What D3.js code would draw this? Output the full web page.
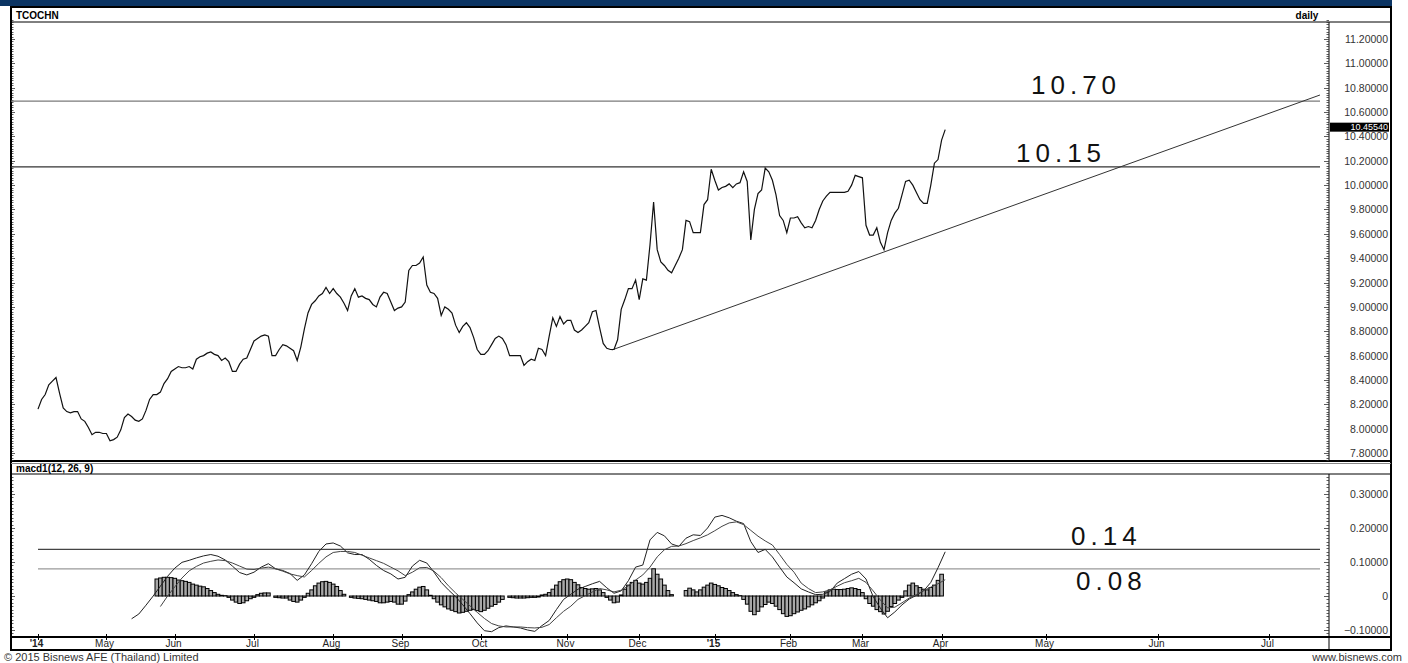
<!DOCTYPE html>
<html><head><meta charset="utf-8">
<script src="https://cdn.jsdelivr.net/npm/d3@7/dist/d3.min.js"></script>
<style>
html,body{margin:0;padding:0;background:#fff;}
svg{display:block;font-family:"Liberation Sans",Arial,sans-serif;}
</style></head>
<body>
<svg id="chart" width="1408" height="663"></svg>
<script>
// ---------------- DATA ----------------
const symbol = "TCOCHN";
const period = "daily";
const indicatorName = "macd1(12, 26, 9)";
const lastPrice = 10.4554;

// daily closes (one per trading day, index 0 = first bar)
const priceValues = [
 8.16,8.24,8.28,8.36,8.39,8.42,8.29,8.17,8.14,8.13,
 8.14,8.14,8.08,8.06,8.01,7.95,7.97,7.97,7.96,7.96,
 7.90,7.91,7.93,7.99,8.09,8.12,8.10,8.07,8.06,8.08,
 8.15,8.24,8.28,8.28,8.30,8.37,8.41,8.47,8.49,8.51,
 8.50,8.50,8.51,8.49,8.57,8.59,8.60,8.62,8.63,8.61,
 8.60,8.56,8.58,8.55,8.47,8.47,8.53,8.57,8.58,8.65,
 8.72,8.74,8.76,8.77,8.76,8.60,8.60,8.65,8.69,8.68,
 8.66,8.64,8.56,8.67,8.82,8.95,9.02,9.05,9.09,9.11,
 9.16,9.11,9.15,9.11,9.08,9.03,8.97,9.09,9.15,9.08,
 9.09,9.07,9.06,9.02,9.00,9.08,9.12,9.11,9.04,8.97,
 8.99,9.00,9.04,9.30,9.34,9.34,9.36,9.41,9.18,9.12,
 9.11,9.07,8.93,9.00,8.98,8.95,8.85,8.79,8.84,8.87,
 8.83,8.75,8.65,8.61,8.61,8.64,8.69,8.74,8.76,8.74,
 8.69,8.60,8.60,8.60,8.60,8.52,8.55,8.57,8.56,8.66,
 8.65,8.60,8.76,8.91,8.84,8.92,8.86,8.89,8.89,8.81,
 8.79,8.81,8.84,8.87,8.96,8.97,8.83,8.70,8.66,8.65,
 8.65,8.73,8.98,9.06,9.15,9.15,9.22,9.06,9.23,9.22,
 9.51,9.86,9.47,9.37,9.34,9.30,9.28,9.34,9.40,9.47,
 9.71,9.70,9.61,9.61,9.61,9.84,9.88,10.13,10.04,9.96,
 9.98,9.99,10.01,9.98,10.01,10.02,10.11,10.03,9.55,9.80,
 9.93,9.96,10.14,10.11,10.04,9.92,9.75,9.71,9.61,9.73,
 9.73,9.74,9.69,9.65,9.66,9.65,9.71,9.80,9.87,9.91,
 9.94,9.94,9.94,9.94,9.94,9.95,10.00,10.08,10.07,10.06,
 9.67,9.59,9.59,9.65,9.53,9.47,9.61,9.71,9.77,9.81,
 9.92,10.03,10.04,10.00,9.94,9.88,9.85,9.85,10.00,10.18,
 10.21,10.37,10.4554
];

// MACD histogram, one bar per trading day starting at bar histFirstBar (null = no bar)
const histFirstBar = 33;
const histValues = [
 0.050,0.053,0.055,0.055,0.054,0.052,0.047,0.045,0.043,0.040,
 0.035,0.032,0.029,0.027,0.022,0.016,0.010,0.005,0.002,0.001,
 -0.004,-0.012,-0.018,-0.022,-0.020,-0.014,-0.008,-0.004,0.004,0.008,
 0.009,0.009,null,-0.004,-0.005,-0.006,-0.006,-0.012,-0.016,-0.018,
 -0.012,-0.004,0.008,0.018,0.030,0.038,0.042,0.043,0.040,0.035,
 0.028,0.016,0.005,null,-0.004,-0.006,-0.007,-0.008,-0.010,-0.012,
 -0.014,-0.016,-0.020,-0.020,-0.018,-0.016,-0.018,-0.024,-0.024,-0.015,
 0.004,0.012,0.020,0.026,0.028,0.018,0.002,-0.008,-0.018,-0.026,
 -0.032,-0.038,-0.042,-0.046,-0.050,-0.048,-0.045,-0.042,-0.040,-0.043,
 -0.046,-0.042,-0.036,-0.030,-0.025,-0.018,-0.010,null,-0.004,-0.005,
 -0.006,-0.006,-0.006,-0.005,-0.004,-0.004,-0.003,0.003,0.005,0.010,
 0.020,0.032,0.042,0.048,0.050,0.048,0.040,0.033,0.025,0.022,
 0.020,0.021,0.022,0.018,0.010,-0.004,-0.012,-0.020,-0.018,0.003,
 0.020,0.032,0.040,0.046,0.038,0.035,0.040,0.052,0.080,0.064,
 0.050,0.032,0.016,0.004,null,0.000,0.000,0.016,0.023,0.018,
 0.012,0.018,0.026,0.032,0.038,0.034,0.030,0.025,0.022,0.016,
 0.010,0.004,0.001,-0.010,-0.024,-0.045,-0.055,-0.045,-0.032,-0.025,
 -0.018,-0.022,-0.030,-0.040,-0.052,-0.060,-0.058,-0.052,-0.047,-0.042,
 -0.038,-0.032,-0.026,-0.020,-0.014,-0.006,0.012,0.018,0.020,0.019,
 0.019,0.020,0.022,0.024,0.022,0.019,0.010,-0.008,-0.022,-0.030,
 -0.040,-0.046,-0.053,-0.045,-0.031,-0.022,-0.012,-0.004,0.015,0.032,
 0.038,0.030,0.025,0.020,0.018,0.025,0.032,0.046,0.064
];

// MACD and signal lines, read every second trading day
const lineStep = 2;
const macdFirstBar = 26;
const macdValues = [
 -0.067,-0.053,-0.027,0.000,0.029,0.058,0.082,0.099,0.105,0.112,
 0.118,0.122,0.117,0.106,0.088,0.069,0.062,0.070,0.085,0.095,
 0.080,0.075,0.066,0.046,0.062,0.095,0.131,0.153,0.156,0.147,
 0.127,0.122,0.122,0.108,0.090,0.075,0.065,0.050,0.055,0.088,
 0.105,0.097,0.070,0.040,0.018,-0.002,-0.026,-0.052,-0.079,-0.102,
 -0.105,-0.093,-0.088,-0.091,-0.094,-0.100,-0.104,-0.087,-0.072,-0.040,
 -0.010,0.005,0.020,0.028,0.036,0.043,0.024,0.008,0.015,0.045,
 0.085,0.091,0.165,0.187,0.177,0.153,0.146,0.170,0.180,0.178,
 0.200,0.232,0.237,0.230,0.220,0.213,0.160,0.128,0.137,0.115,
 0.085,0.056,0.039,0.021,0.012,0.004,0.005,0.013,0.038,0.051,
 0.064,0.072,0.050,-0.002,-0.036,-0.064,-0.047,-0.026,-0.009,0.002,
 0.015,0.040,0.083,0.130
];
const signalFirstBar = 34;
const signalValues = [
 -0.031,0.000,0.027,0.053,0.074,0.087,0.097,0.102,0.106,0.104,
 0.097,0.088,0.079,0.078,0.082,0.085,0.080,0.073,0.065,0.060,
 0.056,0.075,0.096,0.115,0.128,0.131,0.131,0.128,0.120,0.112,
 0.104,0.096,0.085,0.074,0.060,0.070,0.083,0.084,0.073,0.054,
 0.030,0.009,-0.010,-0.029,-0.048,-0.066,-0.081,-0.088,-0.091,-0.091,
 -0.091,-0.093,-0.094,-0.092,-0.084,-0.064,-0.045,-0.030,-0.010,0.001,
 0.012,0.022,0.018,0.012,0.017,0.030,0.047,0.062,0.085,0.115,
 0.136,0.146,0.147,0.154,0.163,0.171,0.180,0.192,0.205,0.215,
 0.218,0.210,0.193,0.176,0.162,0.150,0.122,0.093,0.070,0.038,
 0.022,0.010,0.012,0.018,0.029,0.039,0.045,0.052,0.040,0.015,
 -0.012,-0.035,-0.033,-0.020,-0.006,0.004,0.016,0.026,0.036,0.048
];

// x axis months (bar index of first day of month; future months projected)
const monthBars   = [0,19,38,60,82,101,123,147,167,188,209,229,251,280,311,342];
const monthLabels = ["'14","May","Jun","Jul","Aug","Sep","Oct","Nov","Dec","'15","Feb","Mar","Apr","May","Jun","Jul"];
const boldLabels  = ["'14","'15"];

// y axis ticks
const priceTicks = [7.8,8.0,8.2,8.4,8.6,8.8,9.0,9.2,9.4,9.6,9.8,10.0,10.2,10.4,10.6,10.8,11.0,11.2];
const macdTicks  = [-0.1,0,0.1,0.2,0.3];

// drawn annotations
const priceLevels = [{value:10.69,label:"10.70",color:"#7a7a7a"},{value:10.15,label:"10.15",color:"#333"}];
const macdLevels  = [{value:0.137,label:"0.14",color:"#444"},{value:0.08,label:"0.08",color:"#9a9a9a"}];
const trendLine   = [[159.4,8.646],[356.1,10.74]];

// ---------------- DRAW ----------------
const svg = d3.select("#chart");
const L = 11, R = 1391, AX = 1329;
const priceTop = 22, priceBot = 461, macdHeadTop = 463, macdTop = 474, macdBot = 637, axisBot = 650;

const x = d3.scaleLinear().domain([0, 252]).range([38, 945.2]);
const yP = d3.scaleLinear().domain([7.8, 11.2]).range([453, 39]);
const yM = d3.scaleLinear().domain([-0.1, 0.3]).range([630, 494]);

// top blue banner
svg.append("rect").attr("x",0).attr("y",0).attr("width",1392).attr("height",6).attr("fill","#0b3463");

// frames
const frame = svg.append("g").attr("fill","none").attr("stroke","#000");
frame.append("rect").attr("x",L).attr("y",7).attr("width",R-L).attr("height",axisBot-7).attr("stroke-width",2);
frame.append("line").attr("x1",L).attr("x2",R).attr("y1",priceTop).attr("y2",priceTop).attr("stroke-width",1);
frame.append("line").attr("x1",L).attr("x2",R).attr("y1",priceBot).attr("y2",priceBot).attr("stroke-width",2);
frame.append("line").attr("x1",L).attr("x2",R).attr("y1",macdHeadTop+0.5).attr("y2",macdHeadTop+0.5).attr("stroke","#888");
frame.append("line").attr("x1",L).attr("x2",R).attr("y1",macdTop).attr("y2",macdTop).attr("stroke-width",1);
frame.append("line").attr("x1",L).attr("x2",R).attr("y1",macdBot).attr("y2",macdBot).attr("stroke-width",2);
frame.append("line").attr("x1",AX).attr("x2",AX).attr("y1",priceTop).attr("y2",priceBot).attr("stroke-width",1);
frame.append("line").attr("x1",AX).attr("x2",AX).attr("y1",macdTop).attr("y2",axisBot).attr("stroke-width",1);

// header texts
svg.append("text").attr("x",16).attr("y",19).attr("font-size",10).attr("font-weight","bold").text(symbol);
svg.append("text").attr("x",1307).attr("y",19).attr("font-size",10).attr("font-weight","bold").attr("text-anchor","middle").text(period);
svg.append("text").attr("x",16).attr("y",472).attr("font-size",10).attr("font-weight","bold").text(indicatorName);

// rulers (minor ticks) on right axis and left edge
function ruler(scale, lo, hi, step, majorStep){
  const n = Math.round((hi-lo)/step);
  const g = svg.append("g").attr("stroke","#333").attr("stroke-width",0.8);
  for(let k=0;k<=n;k++){
    const v = lo + k*step;
    const yy = Math.round(scale(v))+0.5;
    const major = Math.abs(v/majorStep - Math.round(v/majorStep))<1e-6;
    g.append("line").attr("x1",AX-(major?5:2.5)).attr("x2",AX).attr("y1",yy).attr("y2",yy);
    g.append("line").attr("x1",L+1).attr("x2",L+(major?4:2.5)).attr("y1",yy).attr("y2",yy);
  }
}
ruler(yP, 7.74, 11.36, 0.02, 0.2);
ruler(yM, -0.11, 0.35, 0.01, 0.1);

// axis labels
const fmt = d3.format(".5f");
svg.append("g").selectAll("text").data(priceTicks).join("text")
  .attr("x",1388).attr("y",d=>yP(d)+4).attr("text-anchor","end").attr("font-size",10.5).attr("fill","#333")
  .text(d=>fmt(d));
svg.append("g").selectAll("text").data(macdTicks).join("text")
  .attr("x",1388).attr("y",d=>yM(d)+4).attr("text-anchor","end").attr("font-size",10.5).attr("fill","#333")
  .text(d=>d===0?"0":fmt(d));

// last price marker
svg.append("rect").attr("x",AX+1).attr("y",yP(lastPrice)-7).attr("width",59).attr("height",9).attr("fill","#000");
svg.append("text").attr("x",1388).attr("y",yP(lastPrice)+0.5).attr("text-anchor","end").attr("font-size",9).attr("fill","#fff").text(lastPrice.toFixed(5));

// x axis
const xg = svg.append("g");
monthBars.forEach((b,k)=>{
  const xx = Math.round(x(b))+0.5;
  xg.append("line").attr("x1",xx).attr("x2",xx).attr("y1",macdBot-3).attr("y2",macdBot+3).attr("stroke","#000");
  xg.append("text").attr("x",xx-2).attr("y",647).attr("text-anchor","middle").attr("font-size",10)
    .attr("font-weight",boldLabels.includes(monthLabels[k])?"bold":"normal").attr("fill","#222").text(monthLabels[k]);
});

// price level lines & labels
priceLevels.forEach(l=>{
  svg.append("line").attr("x1",L).attr("x2",1320).attr("y1",yP(l.value)).attr("y2",yP(l.value)).attr("stroke",l.color).attr("stroke-width",1.2);
});
const annot = (xx,yy,t)=>svg.append("text").attr("x",xx).attr("y",yy).attr("font-size",26).attr("letter-spacing",5).attr("fill","#111").text(t);
annot(1031,94,priceLevels[0].label);
annot(1016,162,priceLevels[1].label);

// trend line
svg.append("line").attr("x1",x(trendLine[0][0])).attr("y1",yP(trendLine[0][1]))
  .attr("x2",x(trendLine[1][0])).attr("y2",yP(trendLine[1][1])).attr("stroke","#333").attr("stroke-width",1);

// price line
svg.append("path").datum(priceValues)
  .attr("d", d3.line().x((d,i)=>x(i)).y(d=>yP(d)))
  .attr("fill","none").attr("stroke","#111").attr("stroke-width",1.2);

// MACD levels
macdLevels.forEach(l=>{
  svg.append("line").attr("x1",38).attr("x2",1320).attr("y1",yM(l.value)).attr("y2",yM(l.value)).attr("stroke",l.color).attr("stroke-width",1.3);
});
annot(1071,545,macdLevels[0].label);
annot(1076,590,macdLevels[1].label);

// histogram
const bw = x(1)-x(0);
svg.append("g").selectAll("rect").data(histValues.map((v,k)=>({i:histFirstBar+k,v})).filter(d=>d.v!==null)).join("rect")
  .attr("x",d=>x(d.i)-bw/2).attr("width",bw)
  .attr("y",d=>Math.min(yM(d.v),yM(0))).attr("height",d=>Math.abs(yM(d.v)-yM(0)))
  .attr("fill","#a8a8a8").attr("stroke","#000").attr("stroke-width",1);

// MACD & signal lines
svg.append("path").datum(macdValues)
  .attr("d", d3.line().x((d,k)=>x(macdFirstBar+k*lineStep)).y(d=>yM(d)))
  .attr("fill","none").attr("stroke","#222").attr("stroke-width",1);
svg.append("path").datum(signalValues)
  .attr("d", d3.line().x((d,k)=>x(signalFirstBar+k*lineStep)).y(d=>yM(d)))
  .attr("fill","none").attr("stroke","#444").attr("stroke-width",1);

// footer
svg.append("text").attr("x",4).attr("y",661).attr("font-size",11).attr("fill","#333").text("\u00A9 2015 Bisnews AFE (Thailand) Limited");
svg.append("text").attr("x",1402).attr("y",661).attr("font-size",11).attr("text-anchor","end").attr("fill","#333").text("www.bisnews.com");
</script>
</body></html>
